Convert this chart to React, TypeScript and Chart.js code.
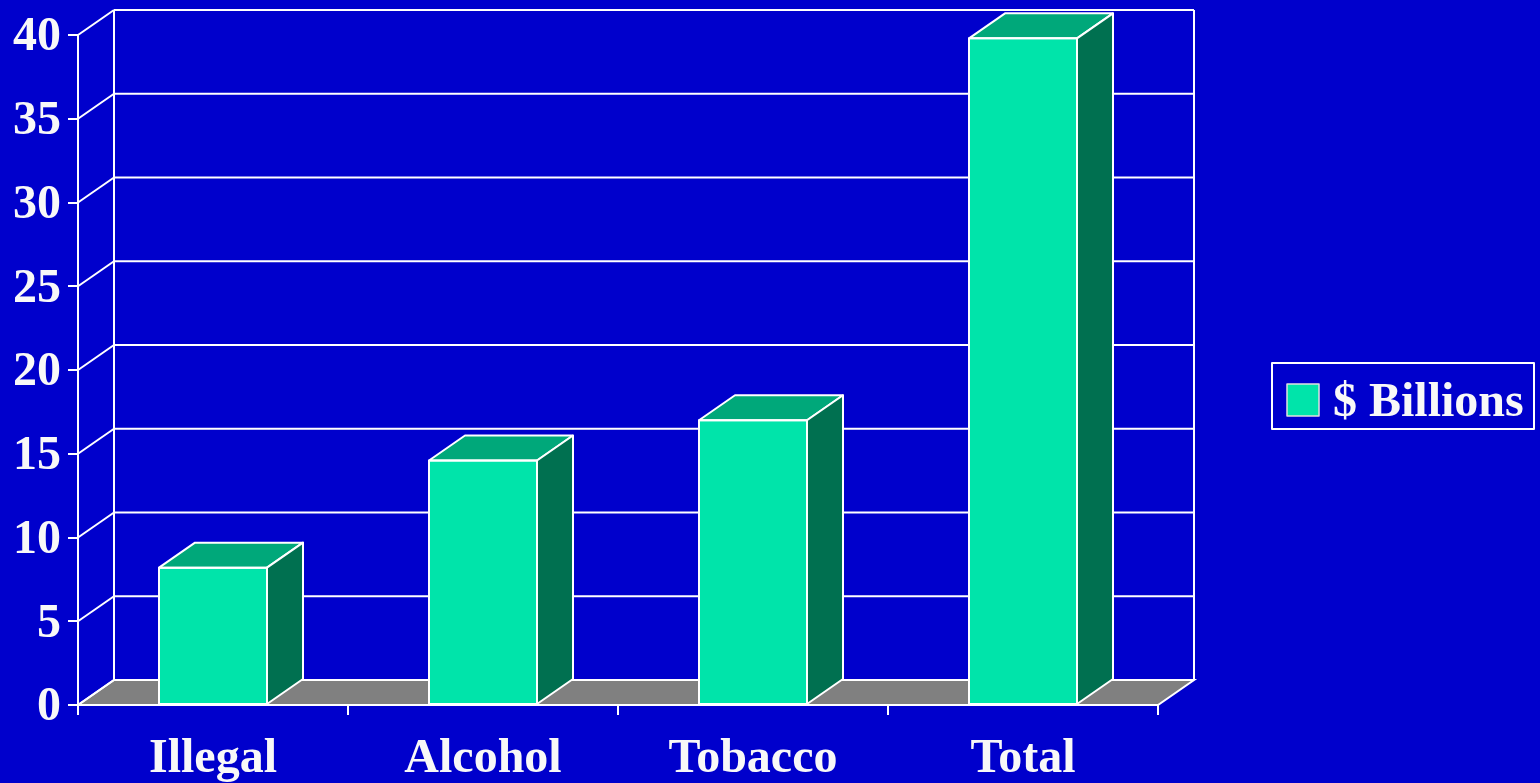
import React, { useEffect, useRef } from "react";
import { Chart, registerables } from "chart.js";

Chart.register(...registerables);

// ---- data ----
const categories = ["Illegal", "Alcohol", "Tobacco", "Total"];
const billions = [8.2, 14.6, 17.0, 39.8];
const seriesLabel = "$ Billions";
const yMin = 0;
const yMax = 40;
const yStep = 5;

// ---- style ----
const BG = "#0000CC";
const FRONT = "#00E4AA";
const TOPC = "#00A87A";
const SIDE = "#007050";
const FLOOR = "#808080";
const WHITE = "#FFFFFF";
const TEXT = "#F8F8F8";
const DX = 36;
const DY = -25;
const FONT = '"Liberation Serif", "Times New Roman", serif';
const W = 1540;
const H = 783;
const TARGET = { left: 78, top: 35, right: 1158, bottom: 705 };

export default function App() {
  const ref = useRef<HTMLCanvasElement>(null);

  useEffect(() => {
    const canvas = ref.current!;

    const line = (ctx: CanvasRenderingContext2D, x1: number, y1: number, x2: number, y2: number) => {
      ctx.beginPath();
      ctx.moveTo(x1, y1);
      ctx.lineTo(x2, y2);
      ctx.stroke();
    };

    const threeD = {
      id: "threeD",
      beforeDatasetsDraw(chart: any) {
        const ctx: CanvasRenderingContext2D = chart.ctx;
        const { left, right, top } = chart.chartArea;
        const ys = chart.scales.y;
        const zero = ys.getPixelForValue(0);
        ctx.save();
        ctx.lineWidth = 2;
        ctx.strokeStyle = WHITE;
        // floor
        ctx.beginPath();
        ctx.moveTo(left, zero);
        ctx.lineTo(right, zero);
        ctx.lineTo(right + DX, zero + DY);
        ctx.lineTo(left + DX, zero + DY);
        ctx.closePath();
        ctx.fillStyle = FLOOR;
        ctx.fill();
        ctx.stroke();
        // back wall grid + side diagonals
        ys.ticks.forEach((t: any) => {
          const py = ys.getPixelForValue(t.value);
          line(ctx, left, py, left + DX, py + DY);
          line(ctx, left + DX, py + DY, right + DX, py + DY);
        });
        // back wall verticals
        line(ctx, left + DX, top + DY, left + DX, zero + DY);
        line(ctx, right + DX, top + DY, right + DX, zero + DY);
        ctx.restore();
      },
      afterDatasetsDraw(chart: any) {
        const ctx: CanvasRenderingContext2D = chart.ctx;
        const meta = chart.getDatasetMeta(0);
        ctx.save();
        ctx.lineWidth = 2;
        ctx.strokeStyle = WHITE;
        ctx.lineJoin = "round";
        meta.data.forEach((bar: any) => {
          const p = bar.getProps(["x", "y", "base", "width"], true);
          const x0 = p.x - p.width / 2;
          const x1 = p.x + p.width / 2;
          // top face
          ctx.beginPath();
          ctx.moveTo(x0, p.y);
          ctx.lineTo(x1, p.y);
          ctx.lineTo(x1 + DX, p.y + DY);
          ctx.lineTo(x0 + DX, p.y + DY);
          ctx.closePath();
          ctx.fillStyle = TOPC;
          ctx.fill();
          ctx.stroke();
          // side face
          ctx.beginPath();
          ctx.moveTo(x1, p.y);
          ctx.lineTo(x1 + DX, p.y + DY);
          ctx.lineTo(x1 + DX, p.base + DY);
          ctx.lineTo(x1, p.base);
          ctx.closePath();
          ctx.fillStyle = SIDE;
          ctx.fill();
          ctx.stroke();
          // front outline
          ctx.strokeRect(x0, p.y, p.width, p.base - p.y);
        });
        // legend
        const lx = 1272, ly = 363, lw = 262, lh = 66;
        ctx.strokeRect(lx, ly, lw, lh);
        ctx.fillStyle = FRONT;
        ctx.fillRect(1287, 384, 32, 32);
        ctx.lineWidth = 1.5;
        ctx.strokeStyle = "#E0E0E0";
        ctx.strokeRect(1287, 384, 32, 32);
        ctx.fillStyle = TEXT;
        ctx.font = `bold 48px ${FONT}`;
        ctx.textBaseline = "alphabetic";
        ctx.textAlign = "left";
        ctx.fillText(chart.data.datasets[0].label, 1333, 416);
        ctx.restore();
      },
    };

    const pad = { left: 10, right: 382, top: 35, bottom: 0 };

    const chart = new Chart(canvas, {
      type: "bar",
      data: {
        labels: categories,
        datasets: [
          {
            label: seriesLabel,
            data: billions,
            backgroundColor: FRONT,
            borderColor: WHITE,
            borderWidth: 0,
            barPercentage: 0.4,
            categoryPercentage: 1.0,
          },
        ],
      },
      options: {
        responsive: false,
        animation: false,
        layout: { padding: { ...pad } },
        plugins: {
          legend: { display: false },
          tooltip: { enabled: false },
        },
        scales: {
          x: {
            offset: true,
            afterFit: (scale: any) => {
              scale.height = H - TARGET.bottom;
            },
            grid: {
              offset: true,
              drawOnChartArea: false,
              drawTicks: true,
              tickLength: 10,
              color: WHITE,
              lineWidth: 2,
            },
            border: { display: true, color: WHITE, width: 2 },
            ticks: {
              color: TEXT,
              padding: 21,
              font: { family: FONT, size: 48, weight: "bold", lineHeight: 1 },
            },
          },
          y: {
            min: yMin,
            max: yMax,
            grid: {
              drawOnChartArea: false,
              drawTicks: true,
              tickLength: 10,
              color: WHITE,
              lineWidth: 2,
            },
            border: { display: true, color: WHITE, width: 2 },
            ticks: {
              stepSize: yStep,
              color: TEXT,
              padding: 7,
              labelOffset: 3,
              font: { family: FONT, size: 48, weight: "bold", lineHeight: 1 },
            },
          },
        },
      },
      plugins: [threeD],
    } as any);

    for (let i = 0; i < 3; i++) {
      const a = chart.chartArea;
      pad.left = Math.max(0, pad.left + TARGET.left - a.left);
      pad.top = Math.max(0, pad.top + TARGET.top - a.top);
      pad.right = Math.max(0, pad.right + a.right - TARGET.right);
      pad.bottom = Math.max(0, pad.bottom + a.bottom - TARGET.bottom);
      (chart.options as any).layout.padding = { ...pad };
      chart.update();
    }

    return () => chart.destroy();
  }, []);

  return (
    <div
      style={{
        position: "absolute",
        left: 0,
        top: 0,
        width: W,
        height: H,
        background: BG,
        overflow: "hidden",
      }}
    >
      <canvas ref={ref} width={W} height={H} style={{ display: "block", width: W, height: H }} />
    </div>
  );
}
